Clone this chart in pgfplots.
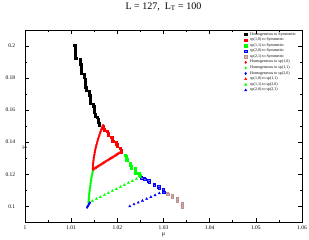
\documentclass[border=0pt]{standalone}
\usepackage{fontspec}
\setmainfont{Liberation Serif}
\usepackage{pgfplots}
\pgfplotsset{compat=1.18}
\definecolor{gbrown}{RGB}{188,143,143}
\begin{document}
\begin{tikzpicture}
\path[use as bounding box] (-25pt,-17.7pt) rectangle (284pt,222.3pt);
\begin{axis}[
  at={(0,0)}, anchor=south west,
  scale only axis, width=277pt, height=192.3pt,
  xmin=1, xmax=1.06, ymin=0.09, ymax=0.21,
  xtick={1,1.01,1.02,1.03,1.04,1.05,1.06},
  xticklabels={1,1.01,1.02,1.03,1.04,1.05,1.06},
  ytick={0.1,0.12,0.14,0.16,0.18,0.2},
  yticklabels={0.1,0.12,0.14,0.16,0.18,0.2},
  minor x tick num=1, minor y tick num=1,
  tick align=inside, major tick length=4pt, minor tick length=2pt,
  /pgf/number format/assume math mode=true,
  axis line style={line width=0.6pt},
  every tick/.style={line width=0.5pt, black},
  tick label style={font=\fontsize{5.5}{6}\selectfont},
  yticklabel style={xshift=-6.3pt},
  xticklabel style={yshift=0.3pt},
  xlabel={μ}, ylabel={T},
  every axis x label/.style={at={(axis description cs:0.5,0)}, anchor=center, yshift=-12pt, font=\fontsize{6}{7}\selectfont},
  every axis y label/.style={at={(axis description cs:0,0.5)}, anchor=center, rotate=90, xshift=-21.7pt, font=\fontsize{6}{7}\selectfont},
  title={L = 127,\ \ L\textsubscript{T} = 100},
  every axis title/.style={at={(axis description cs:0.5,1)}, anchor=base, yshift=20.7pt, font=\fontsize{10}{12}\selectfont},
  legend cell align=left,
  legend image code/.code={\draw[mark repeat=2,mark phase=2] plot coordinates {(0pt,0pt)(3pt,0pt)(6pt,0pt)};},
  legend style={at={(0.792,0.99)}, anchor=north west, draw=none, fill=none,
    inner sep=0pt, row sep=0.6pt, font=\fontsize{4}{4.5}\selectfont,
    nodes={inner sep=0.35pt},
    /tikz/every odd column/.append style={column sep=3pt}},
]
% Homogeneous to Symmetric
\addplot[only marks, mark=square*, mark size=1.1pt, black] coordinates {
(1.01076,0.2005)(1.01080,0.1991)(1.01083,0.1977)(1.01087,0.1963)(1.01091,0.1950)(1.01094,0.1936)(1.01098,0.1922)
(1.01200,0.1915)(1.01204,0.1901)(1.01208,0.1887)(1.01212,0.1873)(1.01217,0.1858)(1.01221,0.1844)(1.01225,0.1830)
(1.01285,0.1822)(1.01291,0.1806)(1.01297,0.1790)(1.01303,0.1774)(1.01308,0.1757)(1.01314,0.1741)(1.01320,0.1725)
(1.01390,0.1718)(1.01395,0.1706)(1.01400,0.1694)(1.01405,0.1682)(1.01410,0.1669)(1.01415,0.1657)(1.01420,0.1645)
(1.01480,0.1638)(1.01487,0.1625)(1.01493,0.1613)(1.01500,0.1600)(1.01507,0.1587)(1.01513,0.1575)(1.01520,0.1562)
(1.01570,0.1555)(1.01578,0.1545)(1.01586,0.1535)(1.01594,0.1525)(1.01602,0.1515)(1.01610,0.1505)
};
\addlegendentry{Homogeneous to Symmetric}
% sp(1,0) to Symmetric
\addplot[only marks, mark=square*, mark size=1.1pt, red] coordinates {
(1.01690,0.1502)(1.01700,0.1490)(1.01710,0.1478)
(1.01785,0.1467)(1.01795,0.1455)(1.01805,0.1443)
(1.01880,0.1432)(1.01890,0.1420)(1.01900,0.1408)
(1.01975,0.1397)(1.01985,0.1385)(1.01995,0.1373)
(1.02070,0.1362)(1.02080,0.1350)(1.02090,0.1340)
};
\addlegendentry{sp(1,0) to Symmetric}
% sp(1,1) to Symmetric
\addplot[only marks, mark=square*, mark size=1.1pt, green] coordinates {
(1.02175,0.1320)(1.02185,0.1310)(1.02195,0.1300)(1.02205,0.1290)
(1.02280,0.1268)(1.02287,0.1259)(1.02293,0.1250)(1.02300,0.1240)
(1.02380,0.1235)(1.02387,0.1226)(1.02393,0.1217)(1.02400,0.1208)
(1.02470,0.1205)(1.02477,0.1199)(1.02483,0.1192)(1.02490,0.1186)
};
\addlegendentry{sp(1,1) to Symmetric}
% sp(2,0) to Symmetric
\addplot[only marks, mark=square*, mark size=1.1pt, blue, mark options={fill=blue!55}] coordinates {
(1.02525,0.1183)(1.02530,0.1176)
(1.02590,0.1174)(1.02595,0.1167)
(1.02680,0.1159)(1.02685,0.1151)
(1.02790,0.1140)(1.02795,0.1130)
(1.02895,0.1122)(1.02900,0.1113)
(1.02995,0.1104)(1.03000,0.1094)(1.03005,0.1088)
};
\addlegendentry{sp(2,0) to Symmetric}
% sp(2,1) to Symmetric
\addplot[only marks, mark=square*, mark size=1.1pt, gbrown, mark options={fill=gbrown!60}] coordinates {
(1.03085,0.1080)(1.03090,0.1074)
(1.03190,0.1066)(1.03195,0.1059)
(1.03295,0.1052)(1.03300,0.1042)(1.03305,0.1030)
(1.03400,0.1020)(1.03405,0.1008)(1.03410,0.0996)
};
\addlegendentry{sp(2,1) to Symmetric}
% Homogeneous to sp(1,0)
\addplot[only marks, mark=diamond*, mark size=1.2pt, red] coordinates {
(1.01690,0.1505)(1.01676,0.1495)(1.01662,0.1485)(1.01649,0.1475)(1.01636,0.1465)
(1.01624,0.1455)(1.01612,0.1445)(1.01601,0.1435)(1.01589,0.1425)(1.01579,0.1415)
(1.01569,0.1405)(1.01559,0.1395)(1.01550,0.1385)(1.01541,0.1375)(1.01532,0.1365)
(1.01524,0.1355)(1.01517,0.1345)(1.01510,0.1335)(1.01504,0.1325)(1.01498,0.1315)
(1.01492,0.1305)(1.01487,0.1295)(1.01483,0.1285)(1.01479,0.1275)(1.01476,0.1265)
(1.01474,0.1255)(1.01472,0.1245)(1.01470,0.1235)(1.01470,0.1227)
};
\addlegendentry{Homogeneous to sp(1,0)}
% Homogeneous to sp(1,1)
\addplot[only marks, mark=diamond*, mark size=1.2pt, green] coordinates {
(1.01470,0.1220)(1.01462,0.1210)(1.01455,0.1200)(1.01448,0.1190)(1.01442,0.1180)
(1.01436,0.1170)(1.01430,0.1160)(1.01425,0.1150)(1.01420,0.1140)(1.01415,0.1130)
(1.01410,0.1120)(1.01405,0.1110)(1.01401,0.1100)(1.01397,0.1090)(1.01394,0.1080)
(1.01390,0.1070)(1.01387,0.1060)(1.01384,0.1050)(1.01381,0.1040)(1.01378,0.1030)(1.01376,0.1022)
};
\addlegendentry{Homogeneous to sp(1,1)}
% Homogeneous to sp(2,0)
\addplot[only marks, mark=diamond*, mark size=1.2pt, blue] coordinates {
(1.01405,0.1022)(1.01390,0.1015)(1.01375,0.1008)(1.01360,0.1000)(1.01345,0.0993)
};
\addlegendentry{Homogeneous to sp(2,0)}
% sp(1,0) to sp(1,1)
\addplot[only marks, mark=triangle*, mark size=1.3pt, red] coordinates {
(1.01475,0.12300)(1.01500,0.12346)(1.01526,0.12392)(1.01551,0.12438)(1.01577,0.12483)
(1.01602,0.12529)(1.01628,0.12575)(1.01653,0.12621)(1.01678,0.12667)(1.01704,0.12713)
(1.01729,0.12758)(1.01755,0.12804)(1.01780,0.12850)(1.01805,0.12896)(1.01831,0.12942)
(1.01856,0.12988)(1.01882,0.13033)(1.01907,0.13079)(1.01933,0.13125)(1.01958,0.13171)
(1.01983,0.13217)(1.02009,0.13263)(1.02034,0.13308)(1.02060,0.13354)(1.02085,0.13400)
};
\addlegendentry{sp(1,0) to sp(1,1)}
% sp(1,1) to sp(2,0)
\addplot[only marks, mark=triangle*, mark size=1.3pt, green] coordinates {
(1.01460,0.1033)(1.01547,0.1046)(1.01633,0.1058)(1.01720,0.1071)(1.01807,0.1083)
(1.01893,0.1096)(1.01980,0.1108)(1.02067,0.1121)(1.02153,0.1133)(1.02240,0.1146)
(1.02327,0.1158)(1.02413,0.1171)(1.02500,0.1183)
};
\addlegendentry{sp(1,1) to sp(2,0)}
% sp(2,0) to sp(2,1)
\addplot[only marks, mark=triangle*, mark size=1.3pt, blue] coordinates {
(1.02270,0.1000)(1.02361,0.1012)(1.02453,0.1023)(1.02544,0.1035)(1.02635,0.1046)
(1.02726,0.1058)(1.02818,0.1069)(1.02909,0.1081)(1.03000,0.1092)
};
\addlegendentry{sp(2,0) to sp(2,1)}
\end{axis}
\end{tikzpicture}
\end{document}
